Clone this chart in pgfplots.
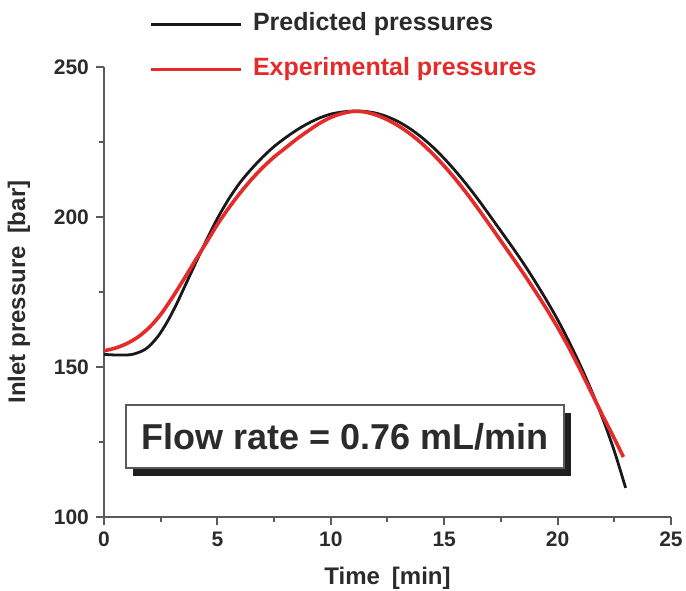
\documentclass[border=0pt]{standalone}
\usepackage{fontspec}
\setmainfont{Liberation Sans}
\usepackage{pgfplots}
\pgfplotsset{compat=1.18}
\usetikzlibrary{shadows}
\definecolor{ExpRed}{HTML}{E52A2A}
\definecolor{AxisGray}{HTML}{5A5A5A}
\definecolor{TxtGray}{HTML}{2B2B2B}

\begin{document}
\begin{tikzpicture}
\begin{axis}[
  scale only axis,
  width=283.5pt, height=225pt,
  xmin=0, xmax=25, ymin=100, ymax=250,
  axis lines*=left,
  axis line style={AxisGray, line width=1pt},
  xtick={0,5,...,25}, ytick={100,150,200,250},
  minor x tick num=1, minor y tick num=1,
  tick align=outside,
  major tick length=4pt, minor tick length=2.5pt,
  tick style={AxisGray, line width=1pt},
  /pgf/number format/assume math mode=true,
  ticklabel style={font=\bfseries\fontsize{10.5}{12}\selectfont, text=TxtGray},
  xlabel={Time\enspace[min]},
  ylabel={Inlet pressure\enspace[bar]},
  label style={font=\bfseries\fontsize{12}{14}\selectfont, text=TxtGray},
  xlabel style={at={(axis description cs:0.5,-0.136)}, anchor=center},
  ylabel style={at={(axis description cs:-0.15,0.5)}, anchor=center},
  clip=false,
  legend cell align=left,
  legend image code/.code={\draw[#1] (0pt,0pt) -- (45pt,0pt);},
  legend style={draw=none, fill=none, inner sep=0pt,
    at={(rel axis cs:0.0794,0.967)}, anchor=south west,
    font=\bfseries\fontsize{12.5}{15}\selectfont,
    nodes={inner sep=0pt, text height=9pt, text depth=3pt},
    row sep=10.5pt, column sep=5pt},
]
% predicted
\addplot[black!90, line width=1.4pt, smooth] coordinates {
(0,154.2) (0.5,154) (1.0,154) (1.3,154.3) (1.7,155.4) (2.0,157) (2.4,160.4)
(2.8,165.2) (3.2,171) (3.6,177.5) (4.0,184) (4.5,192) (5.0,199.5) (5.5,206)
(6.0,211.5) (6.5,216) (7.0,220) (7.5,223.5) (8.0,226.4) (8.5,229) (9.0,231.2)
(9.5,233) (10,234.3) (10.5,235) (11,235.3) (11.5,235.2) (12,234.6) (12.5,233.4)
(13,231.7) (13.5,229.4) (14,226.6) (14.5,223.3) (15,219.5) (15.5,215.3)
(16,210.7) (16.5,205.8) (17,200.6) (17.5,195.3) (18,190) (18.5,184.5)
(19,178.6) (19.5,172.4) (20,165.8) (20.5,158.5) (21,150.6) (21.5,142)
(22,132.6) (22.5,122) (23,109.7)
};
\addlegendentry{\textcolor{TxtGray}{Predicted pressures}}
% experimental
\addplot[ExpRed, line width=1.8pt, smooth] coordinates {
(0,155.4) (0.5,156.3) (1.0,157.8) (1.5,160) (2.0,163.2) (2.5,167.5) (3.0,173)
(3.5,179) (4.0,185.2) (4.5,191.3) (5.0,197.5) (5.5,203) (6.0,208) (6.5,212.5)
(7.0,216.5) (7.5,220) (8.0,223) (8.5,226) (9.0,228.7) (9.5,231.2) (10,233.2)
(10.5,234.5) (11,235.2) (11.5,235) (12,234) (12.5,232.4) (13,230.3) (13.5,227.7)
(14,224.6) (14.5,221) (15,217) (15.5,212.6) (16,207.8) (16.5,202.7) (17,197.4)
(17.5,192) (18,186.6) (18.5,181.1) (19,175.4) (19.5,169.5) (20,163.2)
(20.5,156.4) (21,149) (21.5,141.3) (22,133.6) (22.5,126.2) (22.9,120)
};
\addlegendentry{\textcolor{ExpRed}{Experimental pressures}}
\node[draw=AxisGray, line width=0.8pt, fill=white,
  minimum width=219pt, minimum height=31.5pt,
  font=\bfseries\fontsize{18}{20}\selectfont, text=TxtGray,
  drop shadow={shadow xshift=3.7pt, shadow yshift=-4pt, fill=black!88, opacity=1}]
  at (axis cs:10.63,126.8) {Flow rate = 0.76 mL/min};
\coordinate (ll) at (rel axis cs:0,0);
\coordinate (ur) at (rel axis cs:1,1);
\end{axis}
\pgfresetboundingbox
\path ([shift={(-52pt,-36.5pt)}]ll) rectangle ([shift={(7.5pt,33.5pt)}]ur);
\end{tikzpicture}
\end{document}
